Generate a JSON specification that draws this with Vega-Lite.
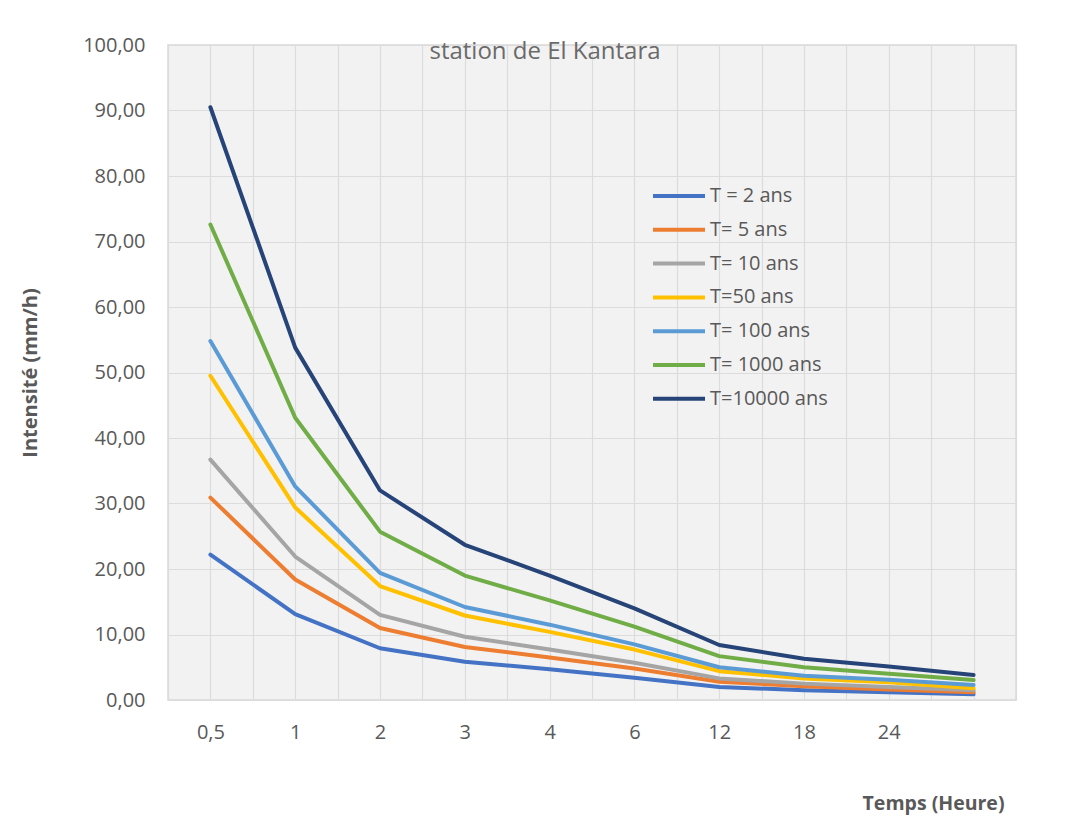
{
  "$schema": "https://vega.github.io/schema/vega-lite/v6.json",
  "width": 848,
  "height": 655,
  "autosize": {"type": "none"},
  "padding": {"left": 168, "top": 45, "right": 51, "bottom": 133},
  "background": "white",
  "config": {
    "font": "Open Sans",
    "view": {"stroke": "#d9d9d9", "strokeWidth": 1.5, "fill": "#f2f2f2"}
  },
  "title": {
    "text": "station de El Kantara",
    "anchor": "middle",
    "dx": -47,
    "dy": 35,
    "baseline": "middle",
    "offset": -6,
    "fontSize": 24,
    "fontWeight": "normal",
    "color": "#6a6a6a",
    "font": "Open Sans"
  },
  "data": {
    "values": [
      {"idx": 1, "duree": "0,5", "serie": "T = 2 ans", "intensite": 22.2},
      {"idx": 2, "duree": "1", "serie": "T = 2 ans", "intensite": 13.1},
      {"idx": 3, "duree": "2", "serie": "T = 2 ans", "intensite": 7.9},
      {"idx": 4, "duree": "3", "serie": "T = 2 ans", "intensite": 5.85},
      {"idx": 5, "duree": "4", "serie": "T = 2 ans", "intensite": 4.7},
      {"idx": 6, "duree": "6", "serie": "T = 2 ans", "intensite": 3.4},
      {"idx": 7, "duree": "12", "serie": "T = 2 ans", "intensite": 2.0},
      {"idx": 8, "duree": "18", "serie": "T = 2 ans", "intensite": 1.5},
      {"idx": 9, "duree": "24", "serie": "T = 2 ans", "intensite": 1.2},
      {"idx": 10, "duree": "", "serie": "T = 2 ans", "intensite": 0.87},

      {"idx": 1, "duree": "0,5", "serie": "T= 5 ans", "intensite": 30.9},
      {"idx": 2, "duree": "1", "serie": "T= 5 ans", "intensite": 18.4},
      {"idx": 3, "duree": "2", "serie": "T= 5 ans", "intensite": 11.0},
      {"idx": 4, "duree": "3", "serie": "T= 5 ans", "intensite": 8.1},
      {"idx": 5, "duree": "4", "serie": "T= 5 ans", "intensite": 6.5},
      {"idx": 6, "duree": "6", "serie": "T= 5 ans", "intensite": 4.8},
      {"idx": 7, "duree": "12", "serie": "T= 5 ans", "intensite": 2.8},
      {"idx": 8, "duree": "18", "serie": "T= 5 ans", "intensite": 2.1},
      {"idx": 9, "duree": "24", "serie": "T= 5 ans", "intensite": 1.6},
      {"idx": 10, "duree": "", "serie": "T= 5 ans", "intensite": 1.2},

      {"idx": 1, "duree": "0,5", "serie": "T= 10 ans", "intensite": 36.7},
      {"idx": 2, "duree": "1", "serie": "T= 10 ans", "intensite": 21.9},
      {"idx": 3, "duree": "2", "serie": "T= 10 ans", "intensite": 13.0},
      {"idx": 4, "duree": "3", "serie": "T= 10 ans", "intensite": 9.65},
      {"idx": 5, "duree": "4", "serie": "T= 10 ans", "intensite": 7.7},
      {"idx": 6, "duree": "6", "serie": "T= 10 ans", "intensite": 5.7},
      {"idx": 7, "duree": "12", "serie": "T= 10 ans", "intensite": 3.3},
      {"idx": 8, "duree": "18", "serie": "T= 10 ans", "intensite": 2.5},
      {"idx": 9, "duree": "24", "serie": "T= 10 ans", "intensite": 2.0},
      {"idx": 10, "duree": "", "serie": "T= 10 ans", "intensite": 1.5},

      {"idx": 1, "duree": "0,5", "serie": "T=50 ans", "intensite": 49.5},
      {"idx": 2, "duree": "1", "serie": "T=50 ans", "intensite": 29.4},
      {"idx": 3, "duree": "2", "serie": "T=50 ans", "intensite": 17.4},
      {"idx": 4, "duree": "3", "serie": "T=50 ans", "intensite": 12.9},
      {"idx": 5, "duree": "4", "serie": "T=50 ans", "intensite": 10.4},
      {"idx": 6, "duree": "6", "serie": "T=50 ans", "intensite": 7.7},
      {"idx": 7, "duree": "12", "serie": "T=50 ans", "intensite": 4.4},
      {"idx": 8, "duree": "18", "serie": "T=50 ans", "intensite": 3.3},
      {"idx": 9, "duree": "24", "serie": "T=50 ans", "intensite": 2.7},
      {"idx": 10, "duree": "", "serie": "T=50 ans", "intensite": 1.8},

      {"idx": 1, "duree": "0,5", "serie": "T= 100 ans", "intensite": 54.8},
      {"idx": 2, "duree": "1", "serie": "T= 100 ans", "intensite": 32.6},
      {"idx": 3, "duree": "2", "serie": "T= 100 ans", "intensite": 19.4},
      {"idx": 4, "duree": "3", "serie": "T= 100 ans", "intensite": 14.2},
      {"idx": 5, "duree": "4", "serie": "T= 100 ans", "intensite": 11.5},
      {"idx": 6, "duree": "6", "serie": "T= 100 ans", "intensite": 8.5},
      {"idx": 7, "duree": "12", "serie": "T= 100 ans", "intensite": 5.0},
      {"idx": 8, "duree": "18", "serie": "T= 100 ans", "intensite": 3.7},
      {"idx": 9, "duree": "24", "serie": "T= 100 ans", "intensite": 3.1},
      {"idx": 10, "duree": "", "serie": "T= 100 ans", "intensite": 2.3},

      {"idx": 1, "duree": "0,5", "serie": "T= 1000 ans", "intensite": 72.6},
      {"idx": 2, "duree": "1", "serie": "T= 1000 ans", "intensite": 43.1},
      {"idx": 3, "duree": "2", "serie": "T= 1000 ans", "intensite": 25.7},
      {"idx": 4, "duree": "3", "serie": "T= 1000 ans", "intensite": 19.0},
      {"idx": 5, "duree": "4", "serie": "T= 1000 ans", "intensite": 15.2},
      {"idx": 6, "duree": "6", "serie": "T= 1000 ans", "intensite": 11.2},
      {"idx": 7, "duree": "12", "serie": "T= 1000 ans", "intensite": 6.7},
      {"idx": 8, "duree": "18", "serie": "T= 1000 ans", "intensite": 5.0},
      {"idx": 9, "duree": "24", "serie": "T= 1000 ans", "intensite": 4.0},
      {"idx": 10, "duree": "", "serie": "T= 1000 ans", "intensite": 3.05},

      {"idx": 1, "duree": "0,5", "serie": "T=10000 ans", "intensite": 90.5},
      {"idx": 2, "duree": "1", "serie": "T=10000 ans", "intensite": 53.8},
      {"idx": 3, "duree": "2", "serie": "T=10000 ans", "intensite": 32.0},
      {"idx": 4, "duree": "3", "serie": "T=10000 ans", "intensite": 23.7},
      {"idx": 5, "duree": "4", "serie": "T=10000 ans", "intensite": 19.0},
      {"idx": 6, "duree": "6", "serie": "T=10000 ans", "intensite": 14.0},
      {"idx": 7, "duree": "12", "serie": "T=10000 ans", "intensite": 8.4},
      {"idx": 8, "duree": "18", "serie": "T=10000 ans", "intensite": 6.3},
      {"idx": 9, "duree": "24", "serie": "T=10000 ans", "intensite": 5.1},
      {"idx": 10, "duree": "", "serie": "T=10000 ans", "intensite": 3.8}
    ]
  },
  "mark": {"type": "line", "strokeWidth": 4, "strokeCap": "round", "strokeJoin": "round"},
  "encoding": {
    "x": {
      "field": "idx",
      "type": "quantitative",
      "scale": {"domain": [0.5, 10.5], "nice": false, "zero": false},
      "axis": {
        "values": [0.5, 1, 1.5, 2, 2.5, 3, 3.5, 4, 4.5, 5, 5.5, 6, 6.5, 7, 7.5, 8, 8.5, 9, 9.5, 10, 10.5],
        "labelExpr": "datum.value % 1 == 0 ? ['0,5','1','2','3','4','6','12','18','24',''][datum.value - 1] : ''",
        "grid": true,
        "gridColor": "#dcdcdc",
        "gridWidth": 1.2,
        "ticks": false,
        "tickSize": 0,
        "domain": false,
        "labelPadding": 22,
        "labelFontSize": 20,
        "labelColor": "#595959",
        "labelFont": "Open Sans",
        "labelOverlap": false,
        "title": "Temps (Heure)",
        "titleFont": "Open Sans",
        "titleFontSize": 19.5,
        "titleFontWeight": "bold",
        "titleColor": "#595959",
        "titleAnchor": null,
        "titleAlign": "right",
        "titleBaseline": "middle",
        "titleX": 836,
        "titleY": 103
      }
    },
    "y": {
      "field": "intensite",
      "type": "quantitative",
      "scale": {"domain": [0, 100], "nice": false},
      "axis": {
        "values": [0, 10, 20, 30, 40, 50, 60, 70, 80, 90, 100],
        "labelExpr": "replace(format(datum.value, '.2f'), '.', ',')",
        "grid": true,
        "gridColor": "#dcdcdc",
        "gridWidth": 1.2,
        "ticks": false,
        "tickSize": 0,
        "domain": false,
        "labelPadding": 23,
        "labelFontSize": 20,
        "labelColor": "#595959",
        "labelFont": "Open Sans",
        "title": "Intensité (mm/h)",
        "titleFont": "Open Sans",
        "titleFontSize": 20,
        "titleFontWeight": "bold",
        "titleColor": "#595959",
        "titleAnchor": null,
        "titleAlign": "center",
        "titleBaseline": "middle",
        "titleAngle": -90,
        "titleX": -138,
        "titleY": 327.5
      }
    },
    "color": {
      "field": "serie",
      "type": "nominal",
      "scale": {
        "domain": ["T = 2 ans", "T= 5 ans", "T= 10 ans", "T=50 ans", "T= 100 ans", "T= 1000 ans", "T=10000 ans"],
        "range": ["#4472C4", "#ED7D31", "#A5A5A5", "#FFC000", "#5B9BD5", "#70AD47", "#264478"]
      },
      "legend": {
        "title": null,
        "orient": "none",
        "legendX": 496,
        "legendY": 136,
        "padding": 0,
        "symbolType": "M-2,0L2,0",
        "symbolSize": 676,
        "symbolStrokeWidth": 4,
        "labelFontSize": 20,
        "labelFont": "Open Sans",
        "labelColor": "#595959",
        "labelOffset": 16,
        "rowPadding": 8.8,
        "labelLimit": 300
      }
    }
  }
}
